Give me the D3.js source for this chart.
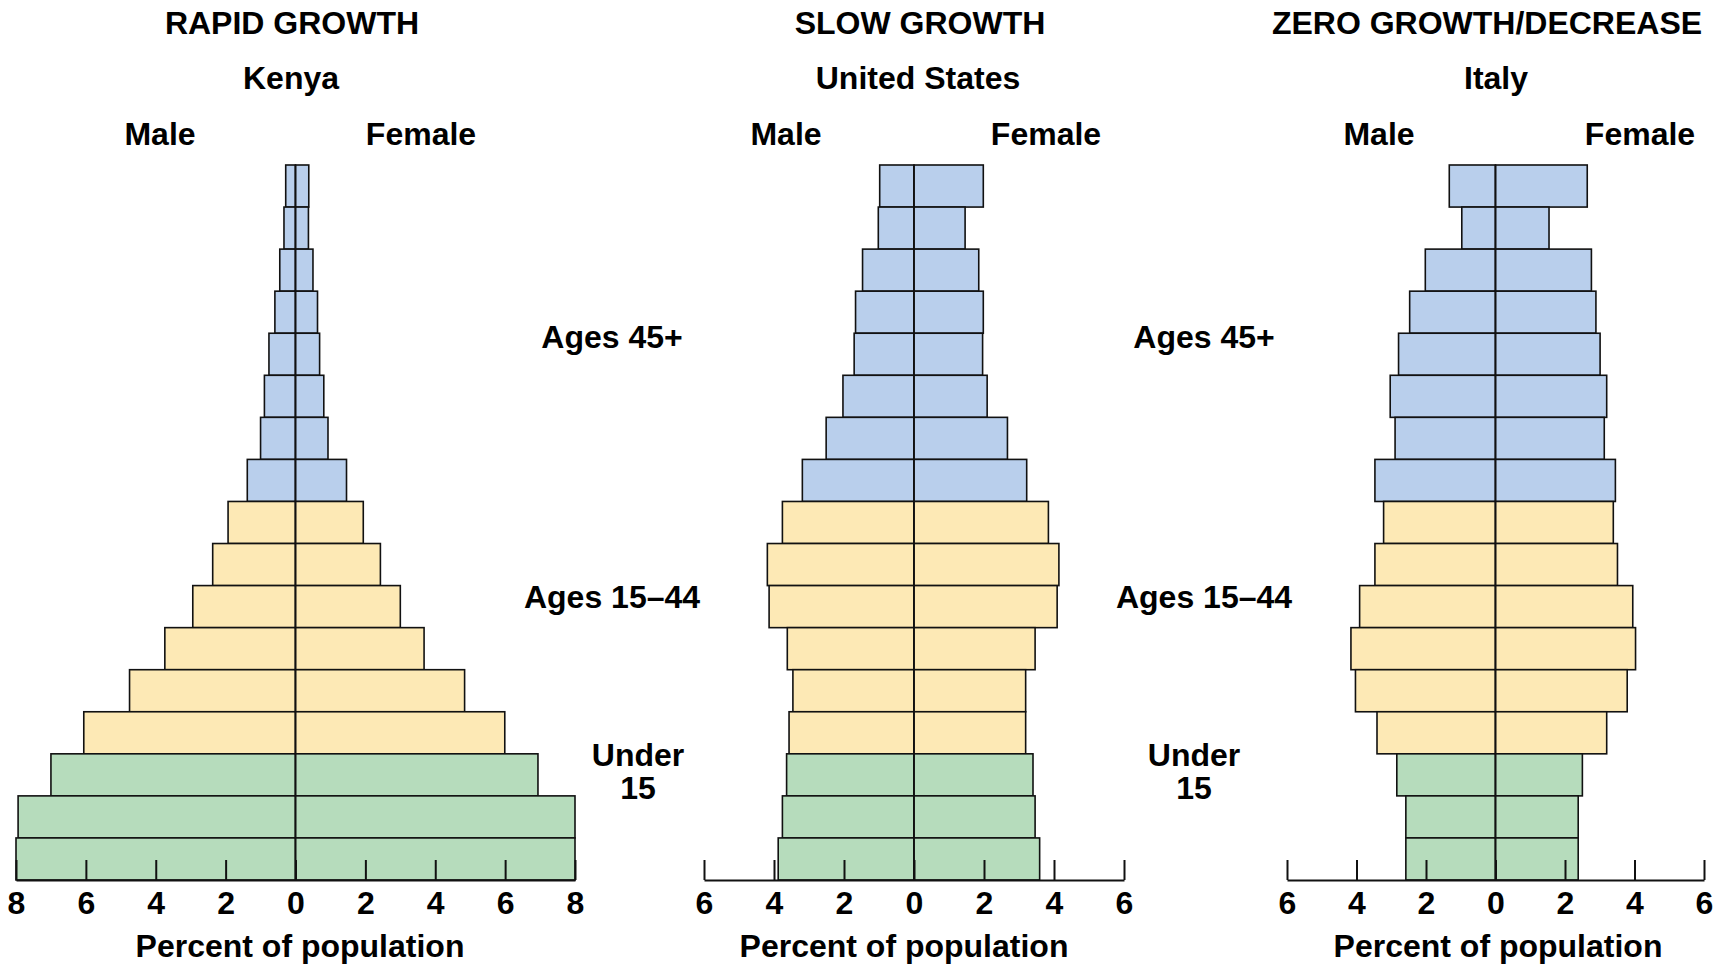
<!DOCTYPE html>
<html>
  <head>
    <!-- load the d3 javascript library -->
    <script src="https://d3js.org/d3.v7.min.js"></script>
    <style>
      body { margin: 0; background: #fff; }
      text { font-family: "Liberation Sans", Arial, sans-serif; font-weight: bold; fill: #000; }
    </style>
  </head>
  <body>

    <script>

    // age groups, oldest at the top
    var ages = ["80+", "75–79", "70–74", "65–69", "60–64", "55–59", "50–54", "45–49",
      "40–44", "35–39", "30–34", "25–29", "20–24", "15–19",
      "10–14", "5–9", "0–4"];

    // which bracket each age group belongs to (sets the colour)
    var brackets = ["45+", "45+", "45+", "45+", "45+", "45+", "45+", "45+",
      "15-44", "15-44", "15-44", "15-44", "15-44", "15-44",
      "<15", "<15", "<15"];

    // percent of population, same order as ages
    var kenyaMale = [0.28, 0.33, 0.45, 0.59, 0.76, 0.89, 1.0, 1.38,
      1.93, 2.37, 2.94, 3.74, 4.75, 6.06, 7.0, 7.94, 8.0];
    var kenyaFemale = [0.38, 0.37, 0.5, 0.63, 0.69, 0.81, 0.93, 1.46,
      1.94, 2.43, 3.0, 3.68, 4.84, 5.99, 6.94, 8.0, 8.0];

    var usMale = [0.98, 1.02, 1.47, 1.67, 1.71, 2.03, 2.51, 3.19,
      3.76, 4.19, 4.14, 3.62, 3.46, 3.57, 3.64, 3.76, 3.88];
    var usFemale = [1.98, 1.46, 1.85, 1.98, 1.96, 2.09, 2.67, 3.22,
      3.84, 4.14, 4.09, 3.46, 3.19, 3.19, 3.4, 3.46, 3.59];

    var italyMale = [1.33, 0.97, 2.02, 2.47, 2.79, 3.03, 2.89, 3.47,
      3.22, 3.47, 3.91, 4.16, 4.03, 3.41, 2.84, 2.58, 2.58];
    var italyFemale = [2.64, 1.54, 2.76, 2.89, 3.01, 3.2, 3.13, 3.45,
      3.39, 3.51, 3.95, 4.03, 3.79, 3.2, 2.5, 2.38, 2.38];

    // tick labels
    var kenyaTicks = [-8, -6, -4, -2, 0, 2, 4, 6, 8];
    var otherTicks = [-6, -4, -2, 0, 2, 4, 6];

    // titles
    var growthTitles = ["RAPID GROWTH", "SLOW GROWTH", "ZERO GROWTH/DECREASE"];
    var countries = ["Kenya", "United States", "Italy"];

    var colors = { "45+": "#b9cfec", "15-44": "#fde9b5", "<15": "#b6dcbc" };

    var w = 1723;
    var h = 965;
    var yTop = 165;
    var yBottom = 880;

    // create the svg element
    var svg = d3.select("body")
      .append("svg")
      .attr("width", w)
      .attr("height", h);

    var y = d3.scaleBand()
      .domain(ages)
      .range([yTop, yBottom]);

    // one entry per pyramid: data plus where it sits on the page
    var panels = [
      { male: kenyaMale, female: kenyaFemale, max: 8, ticks: kenyaTicks, x0: 16, x1: 575,
        titleX: 292, countryX: 291, maleX: 160, femaleX: 421, axisTitleX: 300 },
      { male: usMale, female: usFemale, max: 6, ticks: otherTicks, x0: 704, x1: 1124,
        titleX: 920, countryX: 918, maleX: 786, femaleX: 1046, axisTitleX: 904 },
      { male: italyMale, female: italyFemale, max: 6, ticks: otherTicks, x0: 1287, x1: 1704,
        titleX: 1487, countryX: 1496, maleX: 1379, femaleX: 1640, axisTitleX: 1498 }
    ];

    panels.forEach(function(p, k) {
      var x = d3.scaleLinear()
        .domain([-p.max, p.max])
        .range([p.x0, p.x1]);

      var g = svg.append("g");

      // male bars, to the left of zero
      g.selectAll("rect.male")
        .data(p.male)
        .enter()
        .append("rect")
        .attr("class", "male")
        .attr("x", function(d) { return x(-d); })
        .attr("y", function(d, i) { return y(ages[i]); })
        .attr("width", function(d) { return x(0) - x(-d); })
        .attr("height", y.bandwidth())
        .attr("fill", function(d, i) { return colors[brackets[i]]; })
        .attr("stroke", "#111")
        .attr("stroke-width", 1.6);

      // female bars, to the right of zero
      g.selectAll("rect.female")
        .data(p.female)
        .enter()
        .append("rect")
        .attr("class", "female")
        .attr("x", x(0))
        .attr("y", function(d, i) { return y(ages[i]); })
        .attr("width", function(d) { return x(d) - x(0); })
        .attr("height", y.bandwidth())
        .attr("fill", function(d, i) { return colors[brackets[i]]; })
        .attr("stroke", "#111")
        .attr("stroke-width", 1.6);

      // centre line
      g.append("line")
        .attr("x1", x(0))
        .attr("x2", x(0))
        .attr("y1", yTop)
        .attr("y2", yBottom)
        .attr("stroke", "#111")
        .attr("stroke-width", 1.6);

      // x axis with ticks pointing up
      var axis = g.append("g")
        .attr("transform", "translate(0," + yBottom + ")")
        .call(d3.axisBottom(x)
          .tickValues(p.ticks)
          .tickSize(-20)
          .tickSizeOuter(0)
          .tickPadding(11)
          .tickFormat(function(d) { return Math.abs(d); }));

      axis.attr("font-size", 32)
        .attr("font-family", null);
      axis.select(".domain").attr("stroke", "#111").attr("stroke-width", 2);
      axis.selectAll(".tick line").attr("stroke", "#111").attr("stroke-width", 2);

      // headings
      g.append("text")
        .attr("x", p.titleX)
        .attr("y", 34)
        .attr("text-anchor", "middle")
        .attr("font-size", 32)
        .text(growthTitles[k]);

      g.append("text")
        .attr("x", p.countryX)
        .attr("y", 89)
        .attr("text-anchor", "middle")
        .attr("font-size", 32)
        .text(countries[k]);

      g.append("text")
        .attr("x", p.maleX)
        .attr("y", 145)
        .attr("text-anchor", "middle")
        .attr("font-size", 32)
        .text("Male");

      g.append("text")
        .attr("x", p.femaleX)
        .attr("y", 145)
        .attr("text-anchor", "middle")
        .attr("font-size", 32)
        .text("Female");

      g.append("text")
        .attr("x", p.axisTitleX)
        .attr("y", 957)
        .attr("text-anchor", "middle")
        .attr("font-size", 32)
        .text("Percent of population");
    });

    // age bracket labels between the pyramids
    var bracketLabels = [
      { lines: ["Ages 45+"], y: 348 },
      { lines: ["Ages 15–44"], y: 608 },
      { lines: ["Under", "15"], y: 766 }
    ];
    var labelX = [[612, 638], [1204, 1194]];

    labelX.forEach(function(xs) {
      bracketLabels.forEach(function(b, j) {
        var t = svg.append("text")
          .attr("x", j == 2 ? xs[1] : xs[0])
          .attr("y", b.y)
          .attr("text-anchor", "middle")
          .attr("font-size", 32);
        b.lines.forEach(function(line, n) {
          t.append("tspan")
            .attr("x", j == 2 ? xs[1] : xs[0])
            .attr("dy", n == 0 ? 0 : 33)
            .text(line);
        });
      });
    });

    </script>
  </body>
</html>
